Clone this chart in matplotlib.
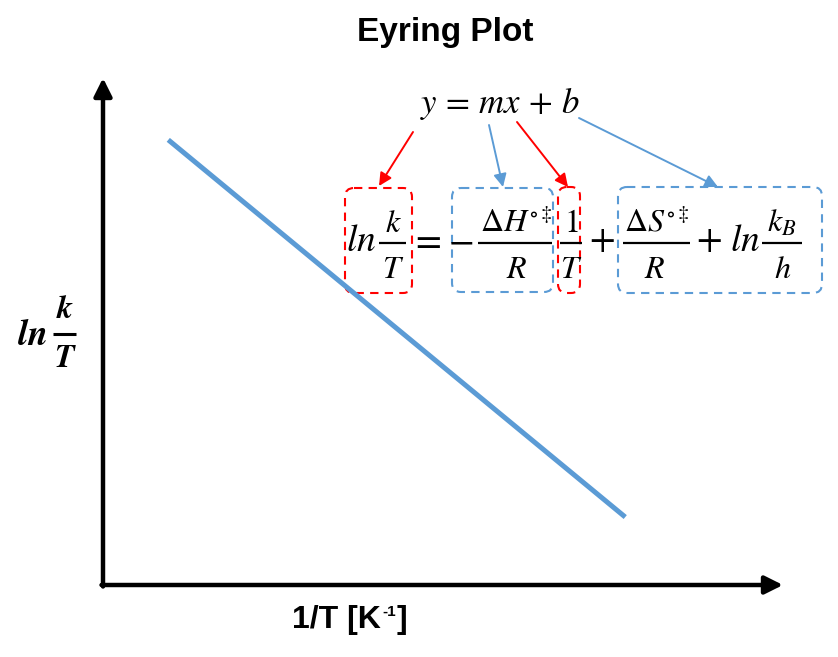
import matplotlib
matplotlib.use("Agg")
import matplotlib.pyplot as plt
from matplotlib.patches import FancyBboxPatch

# ---- data ----
line_x = [0.096, 0.768]      # 1/T (arbitrary units)
line_y = [0.878, 0.134]      # ln(k/T) (arbitrary units)
title = "Eyring Plot"
xlabel_main = "1/T [K"
xlabel_sup = "-1"
xlabel_end = "]"

plt.rcParams['mathtext.fontset'] = 'stix'
plt.rcParams['font.family'] = ['Liberation Sans', 'DejaVu Sans']

W, H = 838, 657
fig = plt.figure(figsize=(W / 100, H / 100), dpi=100)
renderer = fig.canvas.get_renderer()

# overlay in pixel coordinates for annotations
ov = fig.add_axes([0, 0, 1, 1])
ov.set_xlim(0, W)
ov.set_ylim(H, 0)
ov.axis('off')

# main data axes
x0, y0, x1, y1 = 103, 585, 783, 78
ax = fig.add_axes([x0 / W, 1 - y0 / H, (x1 - x0) / W, (y0 - y1) / H])
ax.set_xlim(0, 1)
ax.set_ylim(0, 1)
ax.axis('off')
ax.patch.set_alpha(0)

BLUE = '#5B9BD5'
RED = '#FF0000'

ax.plot(line_x, line_y, color=BLUE, lw=3.6, solid_capstyle='butt')

# axes arrows
arrow_kw = dict(arrowstyle='-|>,head_length=0.9,head_width=0.45', color='black',
                lw=3.2, mutation_scale=12, shrinkA=0, shrinkB=0)
ov.annotate('', xy=(x1, y0), xytext=(x0 - 1.5, y0), arrowprops=arrow_kw)
ov.annotate('', xy=(x0, y1), xytext=(x0, y0 + 1.5), arrowprops=arrow_kw)

# title
ov.text(445, 33, title, ha='center', va='center', fontsize=24, fontweight='bold')

# x label built from pieces
t1 = ov.text(292, 628, xlabel_main, ha='left', va='baseline', fontsize=23, fontweight='bold')
bb = t1.get_window_extent(renderer)
t2 = ov.text(bb.x1 + 1, 616, xlabel_sup, ha='left', va='baseline', fontsize=11, fontweight='bold')
bb2 = t2.get_window_extent(renderer)
ov.text(bb2.x1 + 1, 628, xlabel_end, ha='left', va='baseline', fontsize=23, fontweight='bold')


def frac(xc, num, den, bar_x0, bar_x1, ybar=243, yn=232, yd=278, fs=23, c='black',
         lw=1.6, numx=None, denx=None):
    ov.text(xc if numx is None else numx, yn, num, ha='center', va='baseline', fontsize=fs, color=c)
    ov.text(xc if denx is None else denx, yd, den, ha='center', va='baseline', fontsize=fs, color=c)
    ov.plot([bar_x0, bar_x1], [ybar, ybar], color=c, lw=lw, solid_capstyle='butt')


# y label
ov.text(32, 345, r"$\mathbfit{ln}$", ha='center', va='baseline', fontsize=26)
frac(65, r"$\mathbfit{k}$", r"$\mathbfit{T}$", 53, 76, ybar=334, yn=318, yd=367, fs=23, lw=2.2)

# y = mx + b
ov.text(500, 113, r"$y\,=\,mx\,+\,b$", ha='center', va='baseline', fontsize=25)

# equation: ln k/T = -ΔH/R 1/T + ΔS/R + ln kB/h
MS = 27
base = 251
ov.text(361, base, r"$ln$", ha='center', va='baseline', fontsize=MS)
frac(393, r"$k$", r"$T$", 379, 406)
ov.text(426, base, r"$=$", ha='center', va='baseline', fontsize=MS)
ov.text(461, base, r"$-$", ha='center', va='baseline', fontsize=MS)
frac(515, r"$\Delta H^{\circ\ddagger}$", r"$R$", 478, 552, numx=516, denx=517)
frac(571, r"$1$", r"$T$", 560, 582)
ov.text(602, base, r"$+$", ha='center', va='baseline', fontsize=MS)
frac(656, r"$\Delta S^{\circ\ddagger}$", r"$R$", 623, 690, numx=657, denx=655)
ov.text(709, base, r"$+$", ha='center', va='baseline', fontsize=MS)
ov.text(745, base, r"$ln$", ha='center', va='baseline', fontsize=MS)
frac(782, r"$k_B$", r"$h$", 762, 802, denx=783)

# dashed rounded boxes
boxes = [
    (345, 188, 412, 293, RED),
    (452, 188, 553, 292, BLUE),
    (558, 187, 580, 293, RED),
    (618, 187, 822, 293, BLUE),
]
for bx0, by0, bx1, by1, c in boxes:
    ov.add_patch(FancyBboxPatch((bx0, by0), bx1 - bx0, by1 - by0,
                                boxstyle='round,pad=0,rounding_size=9',
                                fill=False, ec=c, lw=1.5, ls=(0, (4, 3))))

# annotation arrows
arrs = [
    ((413, 132), (379, 186), RED),
    ((489, 125), (503, 187), BLUE),
    ((517, 122), (568, 187), RED),
    ((579, 118), (718, 187), BLUE),
]
for (sx, sy), (tx, ty), c in arrs:
    ov.annotate('', xy=(tx, ty), xytext=(sx, sy),
                arrowprops=dict(arrowstyle='-|>,head_length=0.7,head_width=0.35',
                                color=c, lw=1.4, mutation_scale=11,
                                shrinkA=0, shrinkB=0))

fig.savefig('out.png', dpi=100, facecolor='white')
